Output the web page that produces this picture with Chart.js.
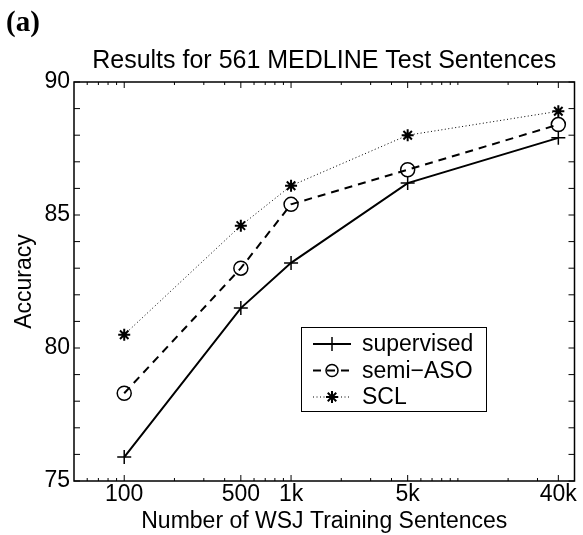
<!DOCTYPE html>
<html>
<head>
<meta charset="utf-8">
<script src="https://cdn.jsdelivr.net/npm/chart.js@4.4.1/dist/chart.umd.min.js"></script>
<style>
  html, body { margin: 0; padding: 0; background: #fff; }
</style>
</head>
<body>
<canvas id="Chart" width="583" height="535"></canvas>
<script>
var sentences = [100, 500, 1000, 5000, 40000];
var sentenceLabels = ["100", "500", "1k", "5k", "40k"];
var supervised = [75.9, 81.5, 83.2, 86.2, 87.9];
var semiASO = [78.3, 83.0, 85.4, 86.7, 88.4];
var scl = [80.5, 84.6, 86.1, 88.0, 88.9];
var yLabels = [75, 80, 85, 90];

var sans = "'Liberation Sans', Arial, sans-serif";

function pts(ys) {
  return sentences.map(function (x, i) { return { x: x, y: ys[i] }; });
}

// matlab style markers, used for the legend
function marker(ctx, style, x, y, r) {
  ctx.beginPath();
  if (style === "circle") {
    ctx.arc(x, y, r, 0, Math.PI * 2);
  } else {
    ctx.moveTo(x - r, y); ctx.lineTo(x + r, y);
    ctx.moveTo(x, y - r); ctx.lineTo(x, y + r);
    if (style === "star") {
      var d = r * Math.SQRT1_2;
      ctx.moveTo(x - d, y - d); ctx.lineTo(x + d, y + d);
      ctx.moveTo(x - d, y + d); ctx.lineTo(x + d, y - d);
    }
  }
  ctx.stroke();
}

var frame = {
  id: "frame",
  afterDatasetsDraw: function (chart) {
    var a = chart.chartArea, ctx = chart.ctx;
    var xs = chart.scales.x, ys = chart.scales.y;
    ctx.save();
    ctx.strokeStyle = "#000";
    ctx.lineWidth = 1;
    ctx.beginPath();
    for (var v = 75; v <= 90; v++) {
      var py = ys.getPixelForValue(v);
      ctx.moveTo(a.left, py); ctx.lineTo(a.left + 6, py);
      ctx.moveTo(a.right, py); ctx.lineTo(a.right - 6, py);
    }
    for (var e = 1; e <= 4; e++) {
      for (var m = 1; m <= 9; m++) {
        var xv = m * Math.pow(10, e);
        if (xv <= xs.min || xv >= xs.max) continue;
        var len = sentences.indexOf(xv) >= 0 ? 6 : 3;
        var px = xs.getPixelForValue(xv);
        ctx.moveTo(px, a.bottom); ctx.lineTo(px, a.bottom - len);
        ctx.moveTo(px, a.top); ctx.lineTo(px, a.top + len);
      }
    }
    ctx.stroke();
    ctx.lineWidth = 1.5;
    ctx.strokeRect(a.left, a.top, a.right - a.left, a.bottom - a.top);

    // legend box
    var bx = 301, by = 327, bw = 185, bh = 84;
    ctx.fillStyle = "#fff";
    ctx.fillRect(bx, by, bw, bh);
    ctx.lineWidth = 1;
    ctx.strokeRect(bx + 0.5, by + 0.5, bw, bh);
    var styles = ["cross", "circle", "star"];
    var radius = [7, 6, 6];
    chart.data.datasets.forEach(function (ds, i) {
      var ry = by + 17 + i * 26.5;
      ctx.strokeStyle = "#000";
      ctx.lineWidth = ds.borderWidth;
      ctx.setLineDash(ds.borderDash || []);
      ctx.beginPath();
      ctx.moveTo(bx + 12, ry); ctx.lineTo(bx + 50, ry);
      ctx.stroke();
      ctx.setLineDash([]);
      ctx.lineWidth = i === 2 ? 2 : 1.5;
      marker(ctx, styles[i], bx + 31, ry, radius[i]);
      ctx.fillStyle = "#000";
      ctx.font = "23px " + sans;
      ctx.textBaseline = "middle";
      ctx.textAlign = "left";
      ctx.fillText(ds.label, bx + 61, ry + 1);
    });

    // title centred over the axes, and the panel letter
    ctx.font = "25px " + sans;
    ctx.textAlign = "center";
    ctx.textBaseline = "alphabetic";
    ctx.fillText("Results for 561 MEDLINE Test Sentences", (a.left + a.right) / 2, 68);
    ctx.textAlign = "left";
    ctx.font = "bold 29px 'Liberation Serif', 'Times New Roman', serif";
    ctx.fillText("(a)", 6, 31);
    ctx.restore();
  }
};

var ctx = document.getElementById("Chart").getContext("2d");
var chart = new Chart(ctx, {
  type: "line",
  data: {
    datasets: [
      {
        label: "supervised",
        data: pts(supervised),
        borderColor: "#000",
        borderWidth: 2,
        pointStyle: "cross",
        pointRadius: 7,
        pointBorderWidth: 1.5,
        pointBorderColor: "#000",
        pointBackgroundColor: "transparent",
      },
      {
        label: "semi\u2212ASO",
        data: pts(semiASO),
        borderColor: "#000",
        borderWidth: 2,
        borderDash: [8, 6],
        pointStyle: "circle",
        pointRadius: 7,
        pointBorderWidth: 1.5,
        pointBorderColor: "#000",
        pointBackgroundColor: "transparent",
      },
      {
        label: "SCL",
        data: pts(scl),
        borderColor: "#000",
        borderWidth: 1,
        borderDash: [1, 2.5],
        pointStyle: "star",
        pointRadius: 6,
        pointBorderWidth: 2,
        pointBorderColor: "#000",
        pointBackgroundColor: "transparent",
      },
    ],
  },
  options: {
    responsive: false,
    animation: false,
    layout: { padding: { left: 0, right: 5, top: 82, bottom: 0 } },
    plugins: {
      legend: { display: false },
      tooltip: { enabled: false },
      title: { display: false },
    },
    scales: {
      x: {
        type: "logarithmic",
        min: 50,
        max: 50000,
        grid: { display: false, drawTicks: false },
        border: { display: false },
        afterBuildTicks: function (s) {
          s.ticks = sentences.map(function (v) { return { value: v }; });
        },
        afterFit: function (s) { s.height = 54; },
        ticks: {
          color: "#000",
          font: { family: sans, size: 23 },
          padding: 0,
          autoSkip: false,
          maxRotation: 0,
          callback: function (v, i) { return sentenceLabels[i]; },
        },
        title: {
          display: true,
          text: "Number of WSJ Training Sentences",
          color: "#000",
          font: { family: sans, size: 23 },
          padding: 0,
        },
      },
      y: {
        min: 75,
        max: 90,
        grid: { display: false, drawTicks: false },
        border: { display: false },
        afterBuildTicks: function (s) {
          s.ticks = yLabels.map(function (v) { return { value: v }; });
        },
        afterFit: function (s) { s.width = 74; },
        ticks: {
          color: "#000",
          font: { family: sans, size: 23 },
          padding: 4,
        },
        title: {
          display: true,
          text: "Accuracy",
          color: "#000",
          font: { family: sans, size: 23 },
          padding: { top: 11, bottom: 0 },
        },
      },
    },
  },
  plugins: [frame],
});
</script>
</body>
</html>
